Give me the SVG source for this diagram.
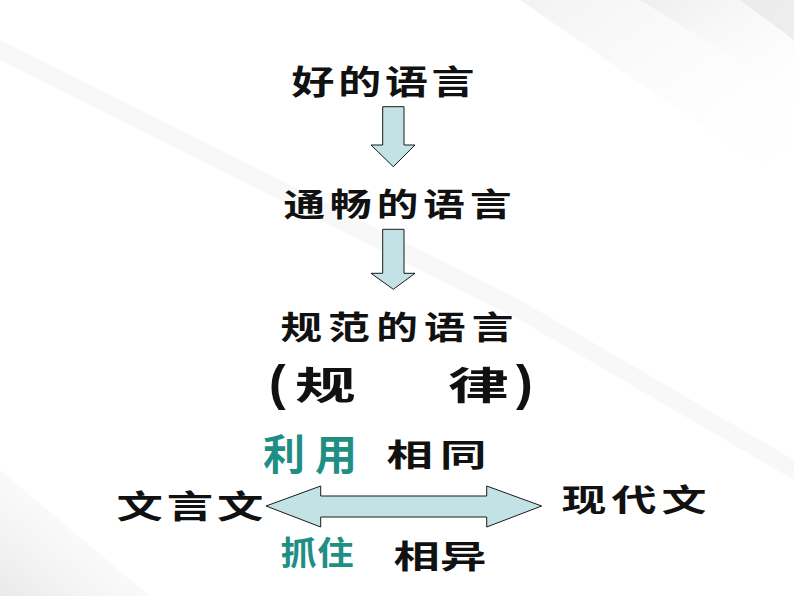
<svg xmlns="http://www.w3.org/2000/svg" width="794" height="596" viewBox="0 0 794 596">
<style>
.t{font-family:"Noto Sans CJK SC","Noto Sans CJK JP",sans-serif;font-weight:700;fill:#111}
.g{font-family:"Noto Sans CJK SC","Noto Sans CJK JP",sans-serif;font-weight:700;fill:#1f8f85}
.p{font-family:"Liberation Sans",Arial,sans-serif;font-weight:700;fill:#111}
.arr{fill:#c3e2e5;stroke:#1a1a1a;stroke-width:1}
</style>
<defs>
<linearGradient id="bg1" x1="0" y1="0" x2="1" y2="1">
<stop offset="0" stop-color="#e6e6e8" stop-opacity="0.9"/>
<stop offset="1" stop-color="#ffffff" stop-opacity="0"/>
</linearGradient>
<linearGradient id="bg2" x1="0" y1="1" x2="1" y2="0">
<stop offset="0" stop-color="#dcdcde" stop-opacity="0.9"/>
<stop offset="1" stop-color="#ffffff" stop-opacity="0"/>
</linearGradient>
</defs>
<g id="background">
<rect width="794" height="596" fill="#ffffff"/>
<polygon points="520,0 794,0 794,190" fill="url(#bg1)" opacity="0.55"/>
<polygon points="640,0 794,0 794,95" fill="url(#bg1)" opacity="0.6"/>
<polygon points="740,0 794,0 794,40" fill="#e4e4e6" opacity="0.6"/>
<polygon points="0,40 520,300 794,460 794,480 520,320 0,60" fill="#f1f1f3" opacity="0.5"/>
<polygon points="0,470 0,596 150,596" fill="url(#bg2)" opacity="0.7"/>
</g>
<g id="connectors">
<polygon id="arrow-down-1" class="arr" points="382.7,106.7 404,106.7 404,145 415,145 393.3,166.7 371,145 382.7,145"/>
<polygon id="arrow-down-2" class="arr" points="382.7,229.3 404,229.3 404,273.3 415,273.3 393.3,289.3 371,273.3 382.7,273.3"/>
<polygon id="arrow-double" class="arr" points="266,506 320.7,486 320.7,496 486.7,496 486.7,486 541.7,506 486.7,527 486.7,517 320.7,517 320.7,527"/>
</g>
<g id="node-good"><text class="t" font-size="33" transform="translate(291.5,94) scale(1.3,1)" textLength="140.8" lengthAdjust="spacing">好的语言</text></g>
<g id="node-fluent"><text class="t" font-size="32" transform="translate(283.5,216) scale(1.3,1)" textLength="175.4" lengthAdjust="spacing">通畅的语言</text></g>
<g id="node-standard"><text class="t" font-size="32" transform="translate(280.5,339) scale(1.3,1)" textLength="179.2" lengthAdjust="spacing">规范的语言</text></g>
<g id="node-rule">
<text class="p" x="269" y="399.5" font-size="50">(</text>
<text class="t" font-size="38" transform="translate(295,399) scale(1.6,1)">规</text>
<text class="t" font-size="38" transform="translate(448,399) scale(1.6,1)">律</text>
<text class="p" x="516" y="399.5" font-size="50">)</text>
</g>
<g id="label-use"><text class="g" x="263" y="470" font-size="42" textLength="94" lengthAdjust="spacing">利用</text></g>
<g id="label-same"><text class="t" font-size="31" transform="translate(386.5,466) scale(1.5,1)" textLength="66.7" lengthAdjust="spacing">相同</text></g>
<g id="node-classical"><text class="t" font-size="32" transform="translate(116.5,518) scale(1.45,1)" textLength="101.4" lengthAdjust="spacing">文言文</text></g>
<g id="node-modern"><text class="t" font-size="31" transform="translate(561.5,511) scale(1.45,1)" textLength="100" lengthAdjust="spacing">现代文</text></g>
<g id="label-grasp"><text class="g" font-size="33" transform="translate(280.5,565) scale(1.1,1)" textLength="66.4" lengthAdjust="spacing">抓住</text></g>
<g id="label-diff"><text class="t" font-size="32" transform="translate(393.5,568) scale(1.45,1)" textLength="64.1" lengthAdjust="spacing">相异</text></g>
</svg>
